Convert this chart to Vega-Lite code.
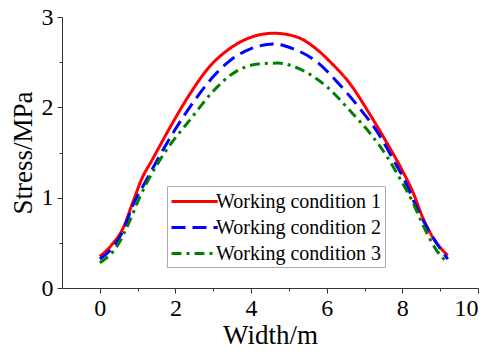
{
  "$schema": "https://vega.github.io/schema/vega-lite/v6.json",
  "autosize": {"type": "none"},
  "padding": {"left": 62, "top": 17, "right": 15, "bottom": 69},
  "width": 416,
  "height": 271,
  "background": "white",
  "data": {
    "values": [
      {"x": 0, "y": 0.35, "c": "Working condition 1"},
      {"x": 0.3, "y": 0.47, "c": "Working condition 1"},
      {"x": 0.6, "y": 0.65, "c": "Working condition 1"},
      {"x": 0.9, "y": 0.98, "c": "Working condition 1"},
      {"x": 1.1, "y": 1.2, "c": "Working condition 1"},
      {"x": 1.4, "y": 1.43, "c": "Working condition 1"},
      {"x": 1.9, "y": 1.81, "c": "Working condition 1"},
      {"x": 2.4, "y": 2.16, "c": "Working condition 1"},
      {"x": 2.9, "y": 2.45, "c": "Working condition 1"},
      {"x": 3.4, "y": 2.64, "c": "Working condition 1"},
      {"x": 3.9, "y": 2.76, "c": "Working condition 1"},
      {"x": 4.6, "y": 2.82, "c": "Working condition 1"},
      {"x": 5.2, "y": 2.78, "c": "Working condition 1"},
      {"x": 5.8, "y": 2.62, "c": "Working condition 1"},
      {"x": 6.1, "y": 2.5, "c": "Working condition 1"},
      {"x": 6.6, "y": 2.27, "c": "Working condition 1"},
      {"x": 7.1, "y": 1.95, "c": "Working condition 1"},
      {"x": 7.6, "y": 1.6, "c": "Working condition 1"},
      {"x": 8.0, "y": 1.3, "c": "Working condition 1"},
      {"x": 8.3, "y": 1.04, "c": "Working condition 1"},
      {"x": 8.5, "y": 0.82, "c": "Working condition 1"},
      {"x": 8.75, "y": 0.6, "c": "Working condition 1"},
      {"x": 9.2, "y": 0.36, "c": "Working condition 1"},
      {"x": 0, "y": 0.32, "c": "Working condition 2"},
      {"x": 0.3, "y": 0.43, "c": "Working condition 2"},
      {"x": 0.6, "y": 0.62, "c": "Working condition 2"},
      {"x": 0.9, "y": 0.94, "c": "Working condition 2"},
      {"x": 1.2, "y": 1.17, "c": "Working condition 2"},
      {"x": 1.7, "y": 1.55, "c": "Working condition 2"},
      {"x": 2.2, "y": 1.89, "c": "Working condition 2"},
      {"x": 2.6, "y": 2.13, "c": "Working condition 2"},
      {"x": 3.0, "y": 2.34, "c": "Working condition 2"},
      {"x": 3.45, "y": 2.52, "c": "Working condition 2"},
      {"x": 4.0, "y": 2.65, "c": "Working condition 2"},
      {"x": 4.6, "y": 2.7, "c": "Working condition 2"},
      {"x": 5.1, "y": 2.65, "c": "Working condition 2"},
      {"x": 5.75, "y": 2.5, "c": "Working condition 2"},
      {"x": 6.3, "y": 2.27, "c": "Working condition 2"},
      {"x": 6.85, "y": 2.0, "c": "Working condition 2"},
      {"x": 7.35, "y": 1.72, "c": "Working condition 2"},
      {"x": 7.75, "y": 1.43, "c": "Working condition 2"},
      {"x": 8.05, "y": 1.2, "c": "Working condition 2"},
      {"x": 8.4, "y": 0.87, "c": "Working condition 2"},
      {"x": 8.75, "y": 0.6, "c": "Working condition 2"},
      {"x": 9.2, "y": 0.32, "c": "Working condition 2"},
      {"x": 0, "y": 0.28, "c": "Working condition 3"},
      {"x": 0.45, "y": 0.46, "c": "Working condition 3"},
      {"x": 0.8, "y": 0.75, "c": "Working condition 3"},
      {"x": 1.05, "y": 1.0, "c": "Working condition 3"},
      {"x": 1.25, "y": 1.17, "c": "Working condition 3"},
      {"x": 1.75, "y": 1.52, "c": "Working condition 3"},
      {"x": 2.4, "y": 1.87, "c": "Working condition 3"},
      {"x": 3.0, "y": 2.18, "c": "Working condition 3"},
      {"x": 3.5, "y": 2.37, "c": "Working condition 3"},
      {"x": 4.2, "y": 2.48, "c": "Working condition 3"},
      {"x": 4.7, "y": 2.49, "c": "Working condition 3"},
      {"x": 5.45, "y": 2.39, "c": "Working condition 3"},
      {"x": 6.0, "y": 2.23, "c": "Working condition 3"},
      {"x": 6.6, "y": 1.97, "c": "Working condition 3"},
      {"x": 7.15, "y": 1.71, "c": "Working condition 3"},
      {"x": 7.6, "y": 1.45, "c": "Working condition 3"},
      {"x": 7.95, "y": 1.2, "c": "Working condition 3"},
      {"x": 8.25, "y": 0.97, "c": "Working condition 3"},
      {"x": 8.52, "y": 0.72, "c": "Working condition 3"},
      {"x": 8.9, "y": 0.42, "c": "Working condition 3"},
      {"x": 9.2, "y": 0.28, "c": "Working condition 3"}
    ]
  },
  "mark": {"type": "line", "interpolate": "monotone", "strokeWidth": 3},
  "encoding": {
    "x": {
      "field": "x", "type": "quantitative",
      "scale": {"domain": [-1, 10], "nice": false, "zero": false},
      "axis": {
        "title": "Width/m",
        "values": [0, 1, 2, 3, 4, 5, 6, 7, 8, 9, 10],
        "labelExpr": "datum.value % 2 == 0 ? '' + datum.value : ''",
        "labelOverlap": false,
        "labelPadding": 3,
        "titlePadding": 2,
        "tickSize": {"condition": {"test": "datum.value % 2 != 0", "value": 3}, "value": 5}
      }
    },
    "y": {
      "field": "y", "type": "quantitative",
      "scale": {"domain": [0, 3], "nice": false},
      "axis": {
        "title": "Stress/MPa",
        "values": [0, 0.5, 1, 1.5, 2, 2.5, 3],
        "labelExpr": "datum.value % 1 == 0 ? '' + datum.value : ''",
        "labelOverlap": false,
        "labelPadding": 4,
        "titlePadding": 4,
        "tickSize": {"condition": {"test": "datum.value % 1 != 0", "value": 3}, "value": 5}
      }
    },
    "color": {
      "field": "c", "type": "nominal",
      "scale": {"domain": ["Working condition 1", "Working condition 2", "Working condition 3"], "range": ["#ff0000", "#0000ff", "#008000"]},
      "legend": {"title": null}
    },
    "strokeDash": {
      "field": "c", "type": "nominal",
      "scale": {"domain": ["Working condition 1", "Working condition 2", "Working condition 3"], "range": [[1, 0], [14, 7], [10, 5, 3, 5]]},
      "legend": {"title": null}
    }
  },
  "config": {
    "view": {"stroke": null},
    "axis": {
      "grid": false,
      "domainColor": "#333333",
      "tickColor": "#333333",
      "labelFont": "Liberation Serif",
      "labelFontSize": 24,
      "labelColor": "black",
      "titleFont": "Liberation Serif",
      "titleFontSize": 27,
      "titleFontWeight": "normal",
      "titleColor": "black"
    },
    "legend": {
      "orient": "none",
      "legendX": 105,
      "legendY": 169,
      "symbolType": "M-1,0L3.2,0",
      "symbolSize": 484,
      "symbolStrokeWidth": 3,
      "labelFont": "Liberation Serif",
      "labelFontSize": 20,
      "labelColor": "black",
      "labelOffset": 21,
      "labelLimit": 0,
      "strokeColor": "#aaaaaa",
      "fillColor": "white",
      "padding": 3,
      "rowPadding": 3
    }
  }
}
